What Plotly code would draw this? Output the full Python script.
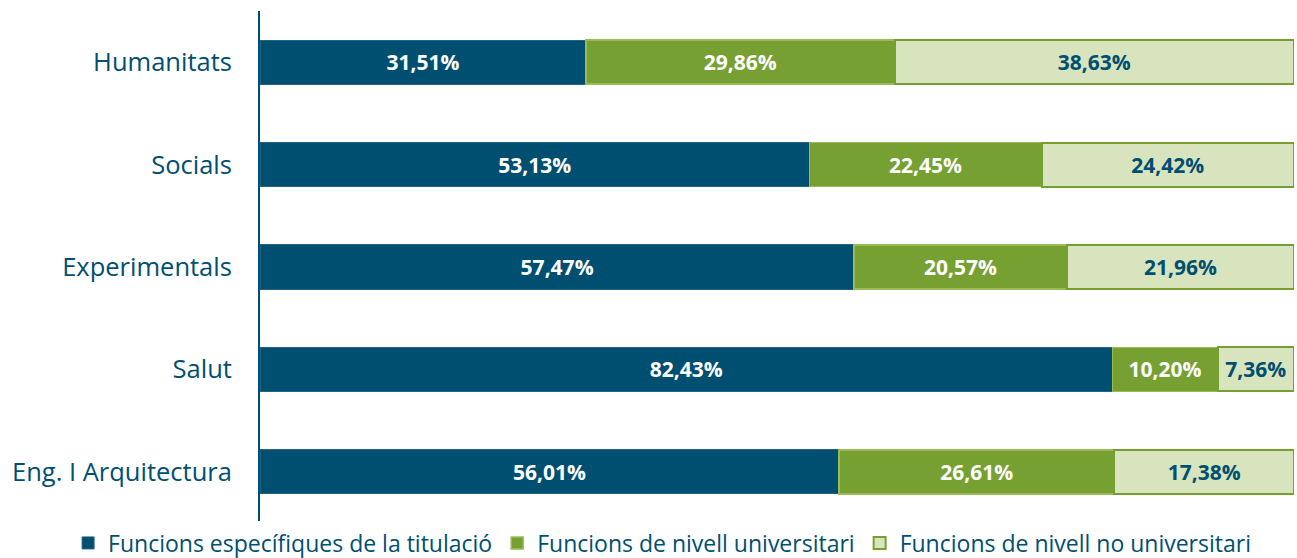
import plotly.graph_objects as go

categories = ["Humanitats", "Socials", "Experimentals", "Salut", "Eng. I Arquitectura"]
series_names = ["Funcions específiques de la titulació",
                "Funcions de nivell universitari",
                "Funcions de nivell no universitari"]
especifiques = [31.51, 53.13, 57.47, 82.43, 56.01]
universitari = [29.86, 22.45, 20.57, 10.20, 26.61]
no_universitari = [38.63, 24.42, 21.96, 7.36, 17.38]

fills = ["#004F71", "#77A033", "#D7E4BD"]
lines = ["#1F6385", "#9BBB59", "#77A033"]
line_widths = [1, 1.5, 2]
text_colors = ["white", "white", "#004F71"]

def fmt(v):
    return "<b>" + f"{v:.2f}".replace(".", ",") + "%</b>"

fig = go.Figure()
for name, vals, fc, lc, lw, tc in zip(series_names, [especifiques, universitari, no_universitari],
                                      fills, lines, line_widths, text_colors):
    fig.add_trace(go.Bar(
        y=categories, x=vals, orientation="h", name=name,
        marker=dict(color=fc, line=dict(color=lc, width=lw)),
        text=[fmt(v) for v in vals], textposition="inside", insidetextanchor="middle",
        textfont=dict(color=tc, size=21, family="Open Sans"),
        textangle=0, width=0.43,
        hoverinfo="skip",
    ))

fig.update_layout(
    barmode="stack",
    width=1297, height=558,
    margin=dict(l=260, r=3, t=11, b=35, autoexpand=False),
    plot_bgcolor="white", paper_bgcolor="white",
    font=dict(family="Open Sans", color="#004F71"),
    uniformtext=dict(minsize=8, mode="show"),
    xaxis=dict(range=[0, 100], visible=False),
    yaxis=dict(autorange="reversed", showline=True, linecolor="#004F71", linewidth=2,
               ticks="", tickfont=dict(size=25.5, color="#004F71", family="Open Sans"),
               ticklabelstandoff=21, automargin=False),
    legend=dict(orientation="h", x=-0.1856, xanchor="left", y=-0.039, yanchor="middle",
                traceorder="normal",
                font=dict(size=23, color="#004F71", family="Open Sans"),
                itemwidth=30, tracegroupgap=0),
    showlegend=True,
)
fig.write_html("out.html", config={"displayModeBar": False},
               post_script="document.body.style.margin='0';document.body.style.overflow='hidden';")
